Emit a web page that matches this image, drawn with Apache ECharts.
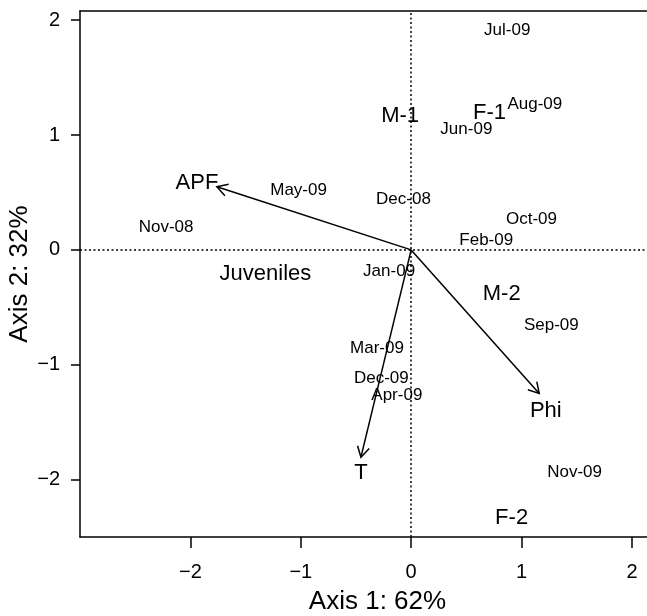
<!DOCTYPE html>
<html>
<head>
<meta charset="utf-8">
<script src="https://cdn.jsdelivr.net/npm/echarts@6/dist/echarts.min.js"></script>
<style>
html,body{margin:0;padding:0;background:#fff;overflow:hidden;width:647px;height:616px;}
#chart{width:700px;height:616px;}
</style>
</head>
<body>
<div id="chart"></div>
<script>
// Sampling months (site scores)
var monthLabels = ['Nov-08','Dec-08','Jan-09','Feb-09','Mar-09','Apr-09','May-09','Jun-09','Jul-09','Aug-09','Sep-09','Oct-09','Nov-09','Dec-09'];
var monthX = [-2.22, -0.07, -0.20, 0.68, -0.31, -0.13, -1.02, 0.50, 0.87, 1.12, 1.27, 1.09, 1.48, -0.27];
var monthY = [0.20, 0.44, -0.19, 0.08, -0.86, -1.27, 0.52, 1.05, 1.91, 1.27, -0.66, 0.27, -1.94, -1.12];

// Stage groups (species scores)
var groupLabels = ['Juveniles','M-1','F-1','M-2','F-2'];
var groupX = [-1.32, -0.10, 0.71, 0.82, 0.91];
var groupY = [-0.21, 1.17, 1.19, -0.38, -2.33];

// Environmental vectors
var vecLabels = ['APF','Phi','T'];
var vecX = [-1.76, 1.16, -0.455];
var vecY = [0.55, -1.25, -1.805];
var vecLabelX = [-1.94, 1.22, -0.455];
var vecLabelY = [0.58, -1.40, -1.94];

// Axis ticks
var xTicks = [-2, -1, 0, 1, 2];
var yTicks = [-2, -1, 0, 1, 2];

var FONT = '"Liberation Sans", Arial, Helvetica, sans-serif';

function zip(xs, ys) { return xs.map(function (x, i) { return [x, ys[i]]; }); }

function textSeries(labels, xs, ys, size) {
  return {
    type: 'custom',
    coordinateSystem: 'cartesian2d',
    data: zip(xs, ys),
    encode: { x: 0, y: 1 },
    silent: true,
    renderItem: function (params, api) {
      var p = api.coord([api.value(0), api.value(1)]);
      return {
        type: 'text',
        x: p[0], y: p[1],
        style: {
          text: labels[params.dataIndex],
          align: 'center', verticalAlign: 'middle',
          fill: '#000',
          font: size + 'px ' + FONT
        }
      };
    }
  };
}

function minusFmt(v) { return String(v).replace('-', '\u2212'); }

var chart = echarts.init(document.getElementById('chart'), null, { renderer: 'canvas' });
chart.setOption({
  backgroundColor: '#fff',
  animation: false,
  grid: {
    left: 80, right: 25, top: 11, bottom: 79,
    containLabel: false, outerBoundsMode: 'none', show: false
  },
  xAxis: [{
    type: 'value', min: -3, max: 2.39,
    name: 'Axis 1: 62%', nameLocation: 'middle', nameGap: 52, nameMoveOverlap: false,
    nameTextStyle: { fontFamily: FONT, fontSize: 26, color: '#000' },
    axisLine: { show: true, onZero: false, lineStyle: { color: '#000', width: 1.5 } },
    axisTick: { show: true, length: 11, customValues: xTicks, lineStyle: { color: '#000', width: 1.5 } },
    axisLabel: { customValues: xTicks, formatter: minusFmt, margin: 25, fontFamily: FONT, fontSize: 20, color: '#000' },
    splitLine: { show: false }
  }, {
    type: 'value', min: -3, max: 2.39, position: 'top',
    axisLine: { show: true, onZero: false, lineStyle: { color: '#000', width: 1.5 } },
    axisTick: { show: false }, axisLabel: { show: false }, splitLine: { show: false }
  }],
  yAxis: {
    type: 'value', min: -2.5, max: 2.08,
    name: 'Axis 2: 32%', nameLocation: 'middle', nameGap: 47, nameRotate: 90, nameMoveOverlap: false,
    nameTextStyle: { fontFamily: FONT, fontSize: 26, color: '#000' },
    axisLine: { show: true, onZero: false, lineStyle: { color: '#000', width: 1.5 } },
    axisTick: { show: true, length: 9, customValues: yTicks, lineStyle: { color: '#000', width: 1.5 } },
    axisLabel: { customValues: yTicks, formatter: minusFmt, margin: 20, fontFamily: FONT, fontSize: 20, color: '#000' },
    splitLine: { show: false }
  },
  series: [
    {
      type: 'line', data: [], silent: true,
      markLine: {
        silent: true, symbol: ['none', 'none'], label: { show: false },
        lineStyle: { color: '#000', type: [2, 2.5], width: 1.5 },
        data: [{ xAxis: 0 }, { yAxis: 0 }]
      }
    },
    {
      type: 'custom',
      coordinateSystem: 'cartesian2d',
      data: zip(vecX, vecY),
      encode: { x: 0, y: 1 },
      silent: true,
      renderItem: function (params, api) {
        var o = api.coord([0, 0]);
        var e = api.coord([api.value(0), api.value(1)]);
        var ang = Math.atan2(e[1] - o[1], e[0] - o[0]);
        var L = 12, a = Math.PI / 6;
        var p1 = [e[0] - L * Math.cos(ang - a), e[1] - L * Math.sin(ang - a)];
        var p2 = [e[0] - L * Math.cos(ang + a), e[1] - L * Math.sin(ang + a)];
        return {
          type: 'group',
          children: [
            { type: 'line', shape: { x1: o[0], y1: o[1], x2: e[0], y2: e[1] }, style: { stroke: '#000', lineWidth: 1.5 } },
            { type: 'polyline', shape: { points: [p1, e, p2] }, style: { stroke: '#000', lineWidth: 1.5, fill: null } }
          ]
        };
      }
    },
    textSeries(monthLabels, monthX, monthY, 17),
    textSeries(groupLabels, groupX, groupY, 22),
    textSeries(vecLabels, vecLabelX, vecLabelY, 22)
  ]
});
</script>
</body>
</html>
